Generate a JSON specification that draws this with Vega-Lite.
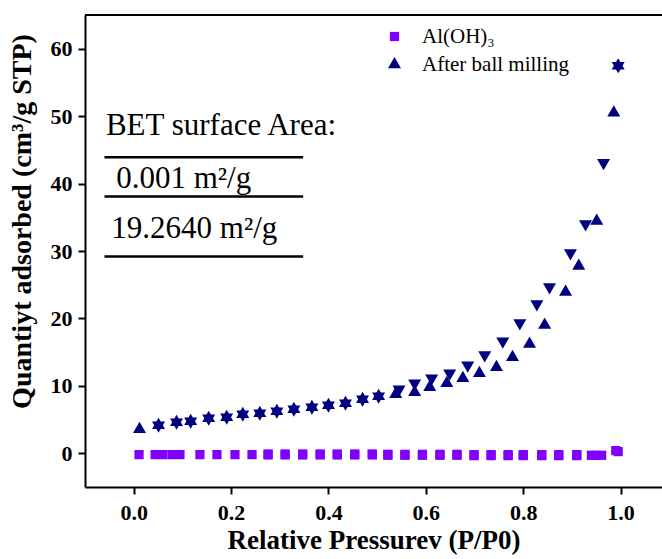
{
  "$schema": "https://vega.github.io/schema/vega-lite/v6.json",
  "width": 577,
  "height": 472,
  "autosize": {"type": "none"},
  "padding": {"left": 85, "top": 15, "right": 0, "bottom": 72},
  "background": "white",
  "config": {"view": {"stroke": null}, "font": "Liberation Serif"},
  "datasets": {
    "isotherm": [
      {"series": "Al(OH)₃", "branch": "Adsorption", "p": 0.011, "v": -0.2},
      {"series": "Al(OH)₃", "branch": "Adsorption", "p": 0.044, "v": -0.2},
      {"series": "Al(OH)₃", "branch": "Adsorption", "p": 0.060, "v": -0.2},
      {"series": "Al(OH)₃", "branch": "Adsorption", "p": 0.079, "v": -0.2},
      {"series": "Al(OH)₃", "branch": "Adsorption", "p": 0.095, "v": -0.2},
      {"series": "Al(OH)₃", "branch": "Adsorption", "p": 0.136, "v": -0.2},
      {"series": "Al(OH)₃", "branch": "Adsorption", "p": 0.171, "v": -0.2},
      {"series": "Al(OH)₃", "branch": "Adsorption", "p": 0.208, "v": -0.2},
      {"series": "Al(OH)₃", "branch": "Adsorption", "p": 0.243, "v": -0.2},
      {"series": "Al(OH)₃", "branch": "Adsorption", "p": 0.276, "v": -0.25},
      {"series": "Al(OH)₃", "branch": "Adsorption", "p": 0.311, "v": -0.25},
      {"series": "Al(OH)₃", "branch": "Adsorption", "p": 0.347, "v": -0.25},
      {"series": "Al(OH)₃", "branch": "Adsorption", "p": 0.383, "v": -0.25},
      {"series": "Al(OH)₃", "branch": "Adsorption", "p": 0.418, "v": -0.25},
      {"series": "Al(OH)₃", "branch": "Adsorption", "p": 0.454, "v": -0.25},
      {"series": "Al(OH)₃", "branch": "Adsorption", "p": 0.490, "v": -0.25},
      {"series": "Al(OH)₃", "branch": "Adsorption", "p": 0.522, "v": -0.3},
      {"series": "Al(OH)₃", "branch": "Adsorption", "p": 0.557, "v": -0.3},
      {"series": "Al(OH)₃", "branch": "Adsorption", "p": 0.593, "v": -0.3},
      {"series": "Al(OH)₃", "branch": "Adsorption", "p": 0.629, "v": -0.3},
      {"series": "Al(OH)₃", "branch": "Adsorption", "p": 0.664, "v": -0.3},
      {"series": "Al(OH)₃", "branch": "Adsorption", "p": 0.699, "v": -0.35},
      {"series": "Al(OH)₃", "branch": "Adsorption", "p": 0.734, "v": -0.35},
      {"series": "Al(OH)₃", "branch": "Adsorption", "p": 0.769, "v": -0.35},
      {"series": "Al(OH)₃", "branch": "Adsorption", "p": 0.800, "v": -0.35},
      {"series": "Al(OH)₃", "branch": "Adsorption", "p": 0.838, "v": -0.35},
      {"series": "Al(OH)₃", "branch": "Adsorption", "p": 0.873, "v": -0.35},
      {"series": "Al(OH)₃", "branch": "Adsorption", "p": 0.910, "v": -0.35},
      {"series": "Al(OH)₃", "branch": "Adsorption", "p": 0.940, "v": -0.3},
      {"series": "Al(OH)₃", "branch": "Adsorption", "p": 0.961, "v": -0.3},
      {"series": "Al(OH)₃", "branch": "Adsorption", "p": 0.995, "v": 0.25},
      {"series": "Al(OH)₃", "branch": "Desorption", "p": 0.990, "v": 0.4},
      {"series": "Al(OH)₃", "branch": "Desorption", "p": 0.950, "v": -0.3},
      {"series": "Al(OH)₃", "branch": "Desorption", "p": 0.910, "v": -0.2},
      {"series": "Al(OH)₃", "branch": "Desorption", "p": 0.873, "v": -0.2},
      {"series": "Al(OH)₃", "branch": "Desorption", "p": 0.838, "v": -0.2},
      {"series": "Al(OH)₃", "branch": "Desorption", "p": 0.800, "v": -0.2},
      {"series": "Al(OH)₃", "branch": "Desorption", "p": 0.769, "v": -0.2},
      {"series": "Al(OH)₃", "branch": "Desorption", "p": 0.734, "v": -0.2},
      {"series": "Al(OH)₃", "branch": "Desorption", "p": 0.699, "v": -0.2},
      {"series": "Al(OH)₃", "branch": "Desorption", "p": 0.664, "v": -0.15},
      {"series": "Al(OH)₃", "branch": "Desorption", "p": 0.629, "v": -0.15},
      {"series": "Al(OH)₃", "branch": "Desorption", "p": 0.593, "v": -0.15},
      {"series": "Al(OH)₃", "branch": "Desorption", "p": 0.557, "v": -0.15},
      {"series": "Al(OH)₃", "branch": "Desorption", "p": 0.522, "v": -0.15},
      {"series": "Al(OH)₃", "branch": "Desorption", "p": 0.490, "v": -0.1},
      {"series": "Al(OH)₃", "branch": "Desorption", "p": 0.454, "v": -0.1},
      {"series": "Al(OH)₃", "branch": "Desorption", "p": 0.418, "v": -0.1},
      {"series": "Al(OH)₃", "branch": "Desorption", "p": 0.383, "v": -0.1},
      {"series": "Al(OH)₃", "branch": "Desorption", "p": 0.347, "v": -0.1},
      {"series": "Al(OH)₃", "branch": "Desorption", "p": 0.311, "v": -0.1},
      {"series": "Al(OH)₃", "branch": "Desorption", "p": 0.276, "v": -0.1},

      {"series": "After ball milling", "branch": "Adsorption", "p": 0.012, "v": 3.56},
      {"series": "After ball milling", "branch": "Adsorption", "p": 0.051, "v": 4.16},
      {"series": "After ball milling", "branch": "Adsorption", "p": 0.088, "v": 4.60},
      {"series": "After ball milling", "branch": "Adsorption", "p": 0.117, "v": 4.75},
      {"series": "After ball milling", "branch": "Adsorption", "p": 0.154, "v": 5.20},
      {"series": "After ball milling", "branch": "Adsorption", "p": 0.191, "v": 5.35},
      {"series": "After ball milling", "branch": "Adsorption", "p": 0.224, "v": 5.79},
      {"series": "After ball milling", "branch": "Adsorption", "p": 0.259, "v": 5.94},
      {"series": "After ball milling", "branch": "Adsorption", "p": 0.294, "v": 6.24},
      {"series": "After ball milling", "branch": "Adsorption", "p": 0.329, "v": 6.54},
      {"series": "After ball milling", "branch": "Adsorption", "p": 0.366, "v": 6.83},
      {"series": "After ball milling", "branch": "Adsorption", "p": 0.400, "v": 7.13},
      {"series": "After ball milling", "branch": "Adsorption", "p": 0.435, "v": 7.43},
      {"series": "After ball milling", "branch": "Adsorption", "p": 0.470, "v": 8.02},
      {"series": "After ball milling", "branch": "Adsorption", "p": 0.503, "v": 8.46},
      {"series": "After ball milling", "branch": "Adsorption", "p": 0.538, "v": 8.76},
      {"series": "After ball milling", "branch": "Adsorption", "p": 0.577, "v": 9.06},
      {"series": "After ball milling", "branch": "Adsorption", "p": 0.608, "v": 9.80},
      {"series": "After ball milling", "branch": "Adsorption", "p": 0.643, "v": 10.40},
      {"series": "After ball milling", "branch": "Adsorption", "p": 0.676, "v": 11.14},
      {"series": "After ball milling", "branch": "Adsorption", "p": 0.710, "v": 11.88},
      {"series": "After ball milling", "branch": "Adsorption", "p": 0.745, "v": 12.77},
      {"series": "After ball milling", "branch": "Adsorption", "p": 0.778, "v": 14.26},
      {"series": "After ball milling", "branch": "Adsorption", "p": 0.813, "v": 16.19},
      {"series": "After ball milling", "branch": "Adsorption", "p": 0.844, "v": 19.01},
      {"series": "After ball milling", "branch": "Adsorption", "p": 0.887, "v": 23.91},
      {"series": "After ball milling", "branch": "Adsorption", "p": 0.914, "v": 27.77},
      {"series": "After ball milling", "branch": "Adsorption", "p": 0.951, "v": 34.46},
      {"series": "After ball milling", "branch": "Adsorption", "p": 0.986, "v": 50.50},
      {"series": "After ball milling", "branch": "Adsorption", "p": 0.995, "v": 57.48},

      {"series": "After ball milling", "branch": "Desorption", "p": 0.995, "v": 57.48},
      {"series": "After ball milling", "branch": "Desorption", "p": 0.965, "v": 43.07},
      {"series": "After ball milling", "branch": "Desorption", "p": 0.928, "v": 34.01},
      {"series": "After ball milling", "branch": "Desorption", "p": 0.897, "v": 29.70},
      {"series": "After ball milling", "branch": "Desorption", "p": 0.854, "v": 24.65},
      {"series": "After ball milling", "branch": "Desorption", "p": 0.828, "v": 22.13},
      {"series": "After ball milling", "branch": "Desorption", "p": 0.793, "v": 19.31},
      {"series": "After ball milling", "branch": "Desorption", "p": 0.758, "v": 16.63},
      {"series": "After ball milling", "branch": "Desorption", "p": 0.721, "v": 14.56},
      {"series": "After ball milling", "branch": "Desorption", "p": 0.686, "v": 13.07},
      {"series": "After ball milling", "branch": "Desorption", "p": 0.649, "v": 11.88},
      {"series": "After ball milling", "branch": "Desorption", "p": 0.612, "v": 11.14},
      {"series": "After ball milling", "branch": "Desorption", "p": 0.577, "v": 10.40},
      {"series": "After ball milling", "branch": "Desorption", "p": 0.545, "v": 9.50},
      {"series": "After ball milling", "branch": "Desorption", "p": 0.503, "v": 8.46},
      {"series": "After ball milling", "branch": "Desorption", "p": 0.470, "v": 8.02},
      {"series": "After ball milling", "branch": "Desorption", "p": 0.435, "v": 7.43},
      {"series": "After ball milling", "branch": "Desorption", "p": 0.400, "v": 7.13},
      {"series": "After ball milling", "branch": "Desorption", "p": 0.366, "v": 6.83},
      {"series": "After ball milling", "branch": "Desorption", "p": 0.329, "v": 6.54},
      {"series": "After ball milling", "branch": "Desorption", "p": 0.294, "v": 6.24},
      {"series": "After ball milling", "branch": "Desorption", "p": 0.259, "v": 5.94},
      {"series": "After ball milling", "branch": "Desorption", "p": 0.224, "v": 5.79},
      {"series": "After ball milling", "branch": "Desorption", "p": 0.191, "v": 5.35},
      {"series": "After ball milling", "branch": "Desorption", "p": 0.154, "v": 5.20},
      {"series": "After ball milling", "branch": "Desorption", "p": 0.117, "v": 4.75},
      {"series": "After ball milling", "branch": "Desorption", "p": 0.088, "v": 4.60},
      {"series": "After ball milling", "branch": "Desorption", "p": 0.051, "v": 4.16}
    ]
  },
  "data": {"name": "isotherm"},
  "layer": [
    {
      "transform": [{"filter": "datum.branch === 'Adsorption'"}],
      "mark": {"type": "point", "filled": true, "opacity": 1, "strokeWidth": 0},
      "encoding": {
        "x": {
          "field": "p",
          "type": "quantitative",
          "scale": {"domain": [-0.1, 1.085], "nice": false, "zero": false},
          "axis": {
            "title": "Relative Pressurev (P/P0)",
            "values": [0, 0.2, 0.4, 0.6, 0.8, 1.0],
            "format": ".1f",
            "grid": false,
            "domainColor": "black",
            "domainWidth": 2,
            "tickColor": "black",
            "tickWidth": 2,
            "tickSize": 7,
            "labelFont": "Liberation Serif",
            "labelFontWeight": "bold",
            "labelFontSize": 22,
            "labelColor": "black",
            "labelPadding": 8,
            "labelFlush": false,
            "titleFont": "Liberation Serif",
            "titleFontWeight": "bold",
            "titleFontSize": 27,
            "titleColor": "black",
            "titlePadding": 4
          }
        },
        "y": {
          "field": "v",
          "type": "quantitative",
          "scale": {"domain": [-5, 65], "nice": false, "zero": false},
          "axis": {
            "title": "Quantiyt adsorbed (cm³/g STP)",
            "values": [0, 10, 20, 30, 40, 50, 60],
            "format": "d",
            "grid": false,
            "domainColor": "black",
            "domainWidth": 2,
            "tickColor": "black",
            "tickWidth": 2,
            "tickSize": 7,
            "labelFont": "Liberation Serif",
            "labelFontWeight": "bold",
            "labelFontSize": 22,
            "labelColor": "black",
            "labelPadding": 6,
            "labelFlush": false,
            "titleFont": "Liberation Serif",
            "titleFontWeight": "bold",
            "titleFontSize": 28,
            "titleColor": "black",
            "titleX": -49,
            "titleY": 206
          }
        },
        "color": {
          "field": "series",
          "type": "nominal",
          "scale": {"domain": ["Al(OH)₃", "After ball milling"], "range": ["#7F00FF", "#000080"]},
          "legend": {
            "title": null,
            "orient": "none",
            "legendX": 299,
            "legendY": 11,
            "padding": 0,
            "labelFont": "Liberation Serif",
            "labelFontSize": 21,
            "labelColor": "black",
            "labelOffset": 17,
            "rowPadding": 6,
            "symbolStrokeWidth": 0
          }
        },
        "shape": {
          "field": "series",
          "type": "nominal",
          "scale": {
            "domain": ["Al(OH)₃", "After ball milling"],
            "range": ["square", "M0,-1L-0.866,0.5L0.866,0.5Z"]
          }
        },
        "size": {
          "field": "series",
          "type": "nominal",
          "scale": {"domain": ["Al(OH)₃", "After ball milling"], "range": [85, 225]}
        }
      }
    },
    {
      "transform": [{"filter": "datum.branch === 'Desorption' && datum.series === 'Al(OH)₃'"}],
      "mark": {"type": "point", "shape": "square", "filled": true, "opacity": 1, "strokeWidth": 0, "size": 85, "color": "#7F00FF"},
      "encoding": {
        "x": {"field": "p", "type": "quantitative"},
        "y": {"field": "v", "type": "quantitative"}
      }
    },
    {
      "transform": [{"filter": "datum.branch === 'Desorption' && datum.series === 'After ball milling'"}],
      "mark": {"type": "point", "shape": "M0,1L-0.866,-0.5L0.866,-0.5Z", "filled": true, "opacity": 1, "strokeWidth": 0, "size": 225, "color": "#000080"},
      "encoding": {
        "x": {"field": "p", "type": "quantitative"},
        "y": {"field": "v", "type": "quantitative"}
      }
    },
    {
      "data": {"values": [{}]},
      "mark": {"type": "rule", "color": "black", "strokeWidth": 2},
      "encoding": {"y": {"datum": 65}}
    },
    {
      "data": {"values": [{}]},
      "mark": {"type": "text", "text": "BET surface Area:", "align": "left", "baseline": "alphabetic", "font": "Liberation Serif", "fontSize": 31, "color": "black"},
      "encoding": {"x": {"datum": -0.057}, "y": {"datum": 47.2}}
    },
    {
      "data": {"values": [{}]},
      "mark": {"type": "text", "text": "0.001 m²/g", "align": "left", "baseline": "alphabetic", "font": "Liberation Serif", "fontSize": 31, "color": "black"},
      "encoding": {"x": {"datum": -0.036}, "y": {"datum": 39.3}}
    },
    {
      "data": {"values": [{}]},
      "mark": {"type": "text", "text": "19.2640 m²/g", "align": "left", "baseline": "alphabetic", "font": "Liberation Serif", "fontSize": 31, "color": "black"},
      "encoding": {"x": {"datum": -0.046}, "y": {"datum": 31.9}}
    },
    {
      "data": {"values": [{"v": 43.9}, {"v": 38.1}, {"v": 29.2}]},
      "mark": {"type": "rule", "color": "black", "strokeWidth": 2.5},
      "encoding": {
        "x": {"datum": -0.06},
        "x2": {"datum": 0.348},
        "y": {"field": "v", "type": "quantitative"}
      }
    }
  ]
}
